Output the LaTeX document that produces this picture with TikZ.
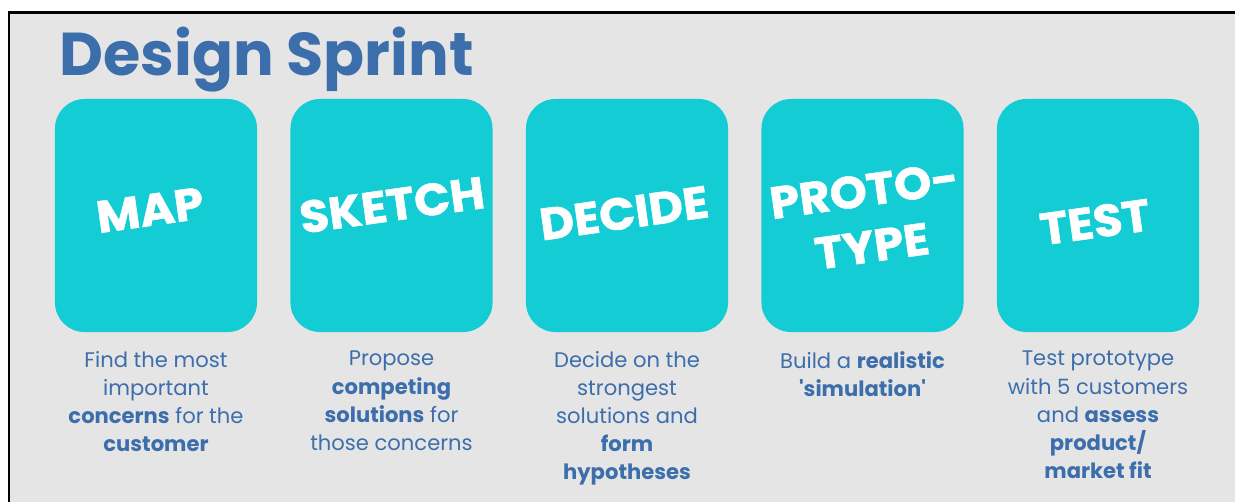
\documentclass[tikz,border=0pt]{standalone}
\usepackage{fontspec}
\setmainfont{Poppins}
\newfontfamily\stagefont[BoldFeatures={FakeBold=1.2}]{Poppins}
\usepackage{tikz}

\definecolor{sprintblue}{RGB}{61,110,172}
\definecolor{sprintteal}{RGB}{20,205,212}
\definecolor{sprintgray}{RGB}{229,229,229}

\begin{document}
\begin{tikzpicture}[x=0.025cm,y=-0.025cm,
	stage/.style={fill=sprintteal, rounded corners=21pt, minimum width=5.05cm, minimum height=5.825cm, inner sep=0pt},
	stagetext/.style={text=white, font=\fontsize{32}{40}\stagefont\bfseries, rotate=8, align=center, xscale=1.05},
	desc/.style={text=sprintblue, font=\fontsize{15}{20}\selectfont, align=center, anchor=north, inner sep=0pt}]
	\useasboundingbox (0,0) rectangle (1235,502);
	\fill[sprintgray] (9,12.5) rectangle (1235,502);
	\draw[line width=2pt] (9,502) -- (9,12.5) -- (1235,12.5);
	\node[text=sprintblue, font=\fontsize{43}{43}\selectfont\bfseries, anchor=base west, inner sep=0pt] (title) at (59,75) {Design Sprint};
	\node[stage] (map) at (156,215.5) {};
	\node[stage] (sketch) at (391.5,215.5) {};
	\node[stage] (decide) at (627,215.5) {};
	\node[stage] (prototype) at (862.5,215.5) {};
	\node[stage] (test) at (1098,215.5) {};
	\node[stagetext] (maptext) at (150,210) {MAP};
	\node[stagetext] (sketchtext) at (392,205) {SKETCH};
	\node[stagetext] (decidetext) at (624,213) {DECIDE};
	\node[stagetext] (prototypetext) at (868,218) {PROTO-\\TYPE};
	\node[stagetext] (testtext) at (1095,222) {TEST};
	\node[desc] (mapdesc) at (156,351) {Find the most\\important\\\textbf{concerns} for the\\\textbf{customer}};
	\node[desc] (sketchdesc) at (391.5,351) {Propose\\\textbf{competing}\\\textbf{solutions} for\\those concerns};
	\node[desc] (decidedesc) at (627,351) {Decide on the\\strongest\\solutions and\\\textbf{form}\\\textbf{hypotheses}};
	\node[desc] (prototypedesc) at (862.5,351) {Build a \textbf{realistic}\\\textbf{\textquotesingle simulation\textquotesingle}};
	\node[desc] (testdesc) at (1098,351) {Test prototype\\with 5 customers\\and \textbf{assess}\\\textbf{product/}\\\textbf{market fit}};
\end{tikzpicture}
\end{document}
